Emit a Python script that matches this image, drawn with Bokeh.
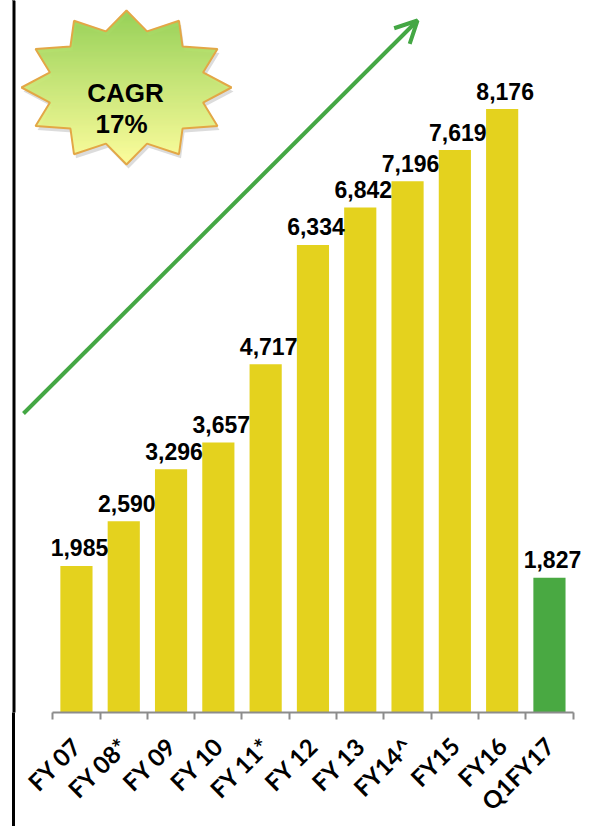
import math
import numpy as np
from bokeh.plotting import figure
from bokeh.models import Range1d, FixedTicker, BoxAnnotation, Arrow, OpenHead
from bokeh.core.properties import value
from bokeh.embed import file_html
from bokeh.resources import INLINE

# ---- data ----
categories = ["FY 07", "FY 08*", "FY 09", "FY 10", "FY 11*", "FY 12",
              "FY 13", "FY14^", "FY15", "FY16", "Q1FY17"]
values = [1985, 2590, 3296, 3657, 4717, 6334, 6842, 7196, 7619, 8176, 1827]
bar_colors = ["#e4d21e"] * 10 + ["#49a942"]
cagr_lines = ["CAGR", "17%"]

# ---- figure ----
FW, FH = 591, 712
p = figure(frame_width=FW, frame_height=FH, output_backend="svg", toolbar_location=None,
           x_range=Range1d(-1.6057, 10.889), y_range=Range1d(0, 9646),
           y_axis_location=None, min_border_left=0, min_border_right=0,
           min_border_top=0, min_border_bottom=0)
p.grid.visible = False
p.outline_line_color = None
p.background_fill_color = "white"
p.border_fill_color = None
# left vertical rule continuing below the plotting area
p.styles = {"background-color": "white",
            "background-image": "linear-gradient(to right, white 12px, black 12px, "
                                "black 15px, white 15px)"}

# pixel-space helper ranges for decorations
p.extra_x_ranges["px"] = Range1d(0, FW)
p.extra_y_ranges["px"] = Range1d(FH, 0)

xs = list(range(len(categories)))
p.vbar(x=xs, top=values, width=0.68, fill_color=bar_colors, line_color=None)

labels = [f"{v:,}" for v in values]
p.text(x=xs, y=values, text=labels, text_font=value("Liberation Sans"),
       text_font_style="bold", text_font_size="23px", text_align="center",
       text_baseline="alphabetic", x_offset=3, y_offset=-18, text_color="black")

# ---- x axis ----
ax = p.xaxis[0]
ax.ticker = FixedTicker(ticks=xs, minor_ticks=[i - 0.5 for i in range(len(xs) + 1)])
ax.bounds = (-0.5, len(xs) - 0.5)
ax.major_label_overrides = {i: c for i, c in enumerate(categories)}
ax.major_label_orientation = math.pi / 4
ax.major_label_text_font = "Lato"
ax.major_label_text_font_style = "bold"
ax.major_label_text_font_size = "24px"
ax.major_label_text_color = "black"
ax.major_label_standoff = 22
ax.axis_line_color = "#8c8c8c"
ax.axis_line_width = 2
ax.major_tick_out = 0
ax.major_tick_in = 0
ax.minor_tick_out = 7
ax.minor_tick_in = 0
ax.minor_tick_line_color = "#8c8c8c"
ax.minor_tick_line_width = 2

# ---- left black border line (plot area part) ----
p.add_layout(BoxAnnotation(left=12, right=15, top=0, bottom=830,
                           left_units="canvas", right_units="canvas",
                           top_units="canvas", bottom_units="canvas",
                           fill_color="black", fill_alpha=1, line_color=None))

# ---- growth arrow ----
p.add_layout(Arrow(x_start=23, y_start=413, x_end=417, y_end=20,
                   x_range_name="px", y_range_name="px",
                   line_color="#44a744", line_width=4,
                   end=OpenHead(size=22, line_color="#44a744", line_width=4)))

# ---- CAGR starburst ----
def star_poly(cx, cy, rx, ry, n=12, ratio=0.755):
    sx, sy = [], []
    for k in range(2 * n):
        ang = math.pi * k / n
        f = 1.0 if k % 2 == 0 else ratio
        sx.append(cx + rx * f * math.sin(ang))
        sy.append(cy - ry * f * math.cos(ang))
    return sx, sy

cx, cy, rx, ry = 126, 87, 105, 77
sx, sy = star_poly(cx, cy, rx, ry)
# shadow
p.patch([x + 2 for x in sx], [y + 4 for y in sy], x_range_name="px", y_range_name="px",
        fill_color="#9a9a9a", fill_alpha=0.35, line_color=None)
# gradient fill via scanlines
top_c = np.array([146, 208, 80])
bot_c = np.array([255, 255, 153])
ymin, ymax = min(sy), max(sy)
x0s, x1s, yys, cols = [], [], [], []
n = len(sx)
y = ymin + 0.5
while y < ymax:
    pts = []
    for i in range(n):
        xa, ya = sx[i], sy[i]
        xb, yb = sx[(i + 1) % n], sy[(i + 1) % n]
        if (ya <= y < yb) or (yb <= y < ya):
            pts.append(xa + (y - ya) * (xb - xa) / (yb - ya))
    pts.sort()
    t = (y - ymin) / (ymax - ymin)
    c = (top_c + (bot_c - top_c) * t).astype(int)
    col = "#%02x%02x%02x" % tuple(c)
    for j in range(0, len(pts) - 1, 2):
        x0s.append(pts[j]); x1s.append(pts[j + 1]); yys.append(y); cols.append(col)
    y += 1.0
p.segment(x0=x0s, y0=yys, x1=x1s, y1=yys, line_color=cols, line_width=1.6,
          x_range_name="px", y_range_name="px")
p.patch(sx, sy, x_range_name="px", y_range_name="px", fill_alpha=0,
        line_color="#e3a746", line_width=2)
p.text(x=[125, 121], y=[92, 123], text=cagr_lines, x_range_name="px", y_range_name="px",
       text_font=value("Liberation Sans"), text_font_style="bold",
       text_font_size="26px", text_align="center", text_baseline="alphabetic",
       text_color="black")

open("out.html", "w").write(file_html(p, INLINE))
